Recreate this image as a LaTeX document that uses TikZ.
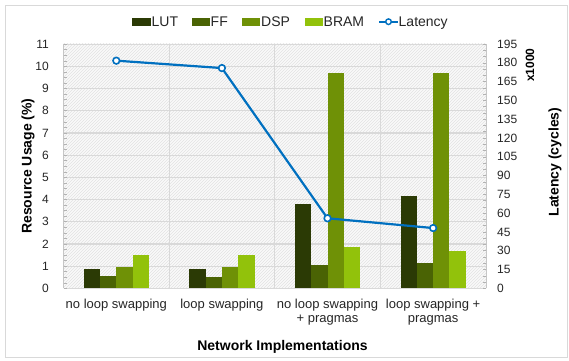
\documentclass[tikz,border=0pt]{standalone}
\usepackage{fontspec}
\setmainfont{Liberation Sans}
\usetikzlibrary{patterns}
\definecolor{cLUT}{HTML}{2B3A05}
\definecolor{cFF}{HTML}{4A6304}
\definecolor{cDSP}{HTML}{6F9106}
\definecolor{cBRAM}{HTML}{92C20B}
\definecolor{cLat}{HTML}{0070C0}
\definecolor{cGrid}{HTML}{D9D9D9}
\definecolor{cTxt}{HTML}{262626}
\tikzset{
  ticklbl/.style={inner sep=0pt, text=cTxt, font=\fontsize{12}{14}\selectfont},
  catlbl/.style={inner sep=0pt, anchor=base, text=cTxt, font=\fontsize{13}{15}\selectfont},
  legtxt/.style={inner sep=0pt, anchor=base west, text=cTxt, font=\fontsize{14}{16}\selectfont},
  axtitle/.style={inner sep=0pt, text=black, font=\bfseries\fontsize{14}{16}\selectfont},
  gridline/.style={draw=cGrid, line width=1.2pt},
  minortick/.style={draw=gray!60, line width=0.5pt},
  latline/.style={draw=cLat, line width=2.2pt, line join=round},
  latmark/.style={circle, draw=cLat, fill=white, line width=1.6pt, minimum size=6.6pt, inner sep=0pt},
  barLUT/.style={fill=cLUT},
  barFF/.style={fill=cFF},
  barDSP/.style={fill=cDSP},
  barBRAM/.style={fill=cBRAM},
}
\begin{document}
\begin{tikzpicture}[x=1pt,y=-1pt]
\useasboundingbox (0,0) rectangle (569,360);
\fill[white] (0,0) rectangle (569,360);
\draw[gray!30, line width=1pt] (5.5,5.5) rectangle (567.5,357);

% plot area
\fill[gray!5] (63.5,43.9) rectangle (486,288.3);
\fill[pattern=north east lines, pattern color=gray!22] (63.5,43.9) rectangle (486,288.3);
\foreach \v in {0,...,11}
  \draw[gridline] (63.5,{288.3-22.2*\v}) -- (486,{288.3-22.2*\v});
\foreach \c in {1,2,3}
  \draw[gridline] ({63.5+105.6*\c},43.9) -- ({63.5+105.6*\c},288.3);
\draw[gray!45, line width=0.8pt] (63.5,43.9) -- (63.5,288.3);
\draw[gray!45, line width=0.8pt] (486,43.9) -- (486,288.3);
\foreach \v in {0,0.25,...,11}
  \draw[minortick] (63.5,{288.3-22.2*\v}) -- (66.5,{288.3-22.2*\v});
\foreach \k in {0,...,39}
  \draw[minortick] (486,{288.3-5*\k*1.2528}) -- (483,{288.3-5*\k*1.2528});

% bars
\foreach \i/\a/\b/\c/\d in {0/0.88/0.54/0.97/1.49, 1/0.87/0.49/0.97/1.49, 2/3.78/1.05/9.71/1.85, 3/4.14/1.14/9.71/1.67}{
  \pgfmathsetmacro\xs{116.3+105.6*\i-32.6}
  \fill[barLUT]  (\xs,288.3) rectangle ({\xs+16.3},{288.3-22.2*\a});
  \fill[barFF]   ({\xs+16.3},288.3) rectangle ({\xs+32.6},{288.3-22.2*\b});
  \fill[barDSP]  ({\xs+32.6},288.3) rectangle ({\xs+48.9},{288.3-22.2*\c});
  \fill[barBRAM] ({\xs+48.9},288.3) rectangle ({\xs+65.2},{288.3-22.2*\d});
}

% latency
\coordinate (p1) at (116.3,{288.3-181.7*1.2528});
\coordinate (p2) at (221.9,{288.3-175.8*1.2528});
\coordinate (p3) at (327.5,{288.3-55.9*1.2528});
\coordinate (p4) at (433.1,{288.3-48.1*1.2528});
\draw[latline] (p1) -- (p2) -- (p3) -- (p4);
\node[latmark] (m1) at (p1) {};
\node[latmark] (m2) at (p2) {};
\node[latmark] (m3) at (p3) {};
\node[latmark] (m4) at (p4) {};

% left tick labels
\foreach \v in {0,...,11}
  \node[ticklbl, anchor=east] (ll\v) at (49,{288.3-22.2*\v}) {\v};
% right tick labels
\foreach \k in {0,...,13}{
  \pgfmathtruncatemacro\L{15*\k}
  \node[ticklbl, anchor=west] (rl\k) at (497,{288.3-15*\k*1.2528}) {\L};
}
\node[axtitle, rotate=90, font=\bfseries\fontsize{12}{14}\selectfont] (xk) at (530,65) {x1000};

% axis titles
\node[axtitle, rotate=90] (ytl) at (28,166) {Resource Usage (\%)};
\node[axtitle, rotate=90] (ytr) at (555,162) {Latency (cycles)};
\node[axtitle, anchor=base] (xt) at (282.5,350) {Network Implementations};

% category labels
\node[catlbl] (c1) at (116.3,308.5) {no loop swapping};
\node[catlbl] (c2) at (221.9,308.5) {loop swapping};
\node[catlbl] (c3a) at (327.5,308.5) {no loop swapping};
\node[catlbl] (c3b) at (327.5,322.5) {+ pragmas};
\node[catlbl] (c4a) at (433.1,308.5) {loop swapping +};
\node[catlbl] (c4b) at (433.1,322.5) {pragmas};

% legend
\fill[cLUT]  (132.3,17.8) rectangle (150.7,25.6);
\node[legtxt] (lg1) at (151.5,26.6) {LUT};
\fill[cFF]   (192.3,17.8) rectangle (210,25.6);
\node[legtxt] (lg2) at (210.5,26.6) {FF};
\fill[cDSP]  (242,17.8) rectangle (260,25.6);
\node[legtxt] (lg3) at (261,26.6) {DSP};
\fill[cBRAM] (305,17.8) rectangle (322.7,25.6);
\node[legtxt] (lg4) at (323.5,26.6) {BRAM};
\coordinate (la) at (379,21.7);
\coordinate (lb) at (398,21.7);
\draw[draw=cLat, line width=1.8pt] (la) -- (lb);
\node[latmark, minimum size=5.6pt, line width=1.4pt] (lm) at (388.5,21.7) {};
\node[legtxt] (lg5) at (398.5,26.6) {Latency};
\end{tikzpicture}
\end{document}
